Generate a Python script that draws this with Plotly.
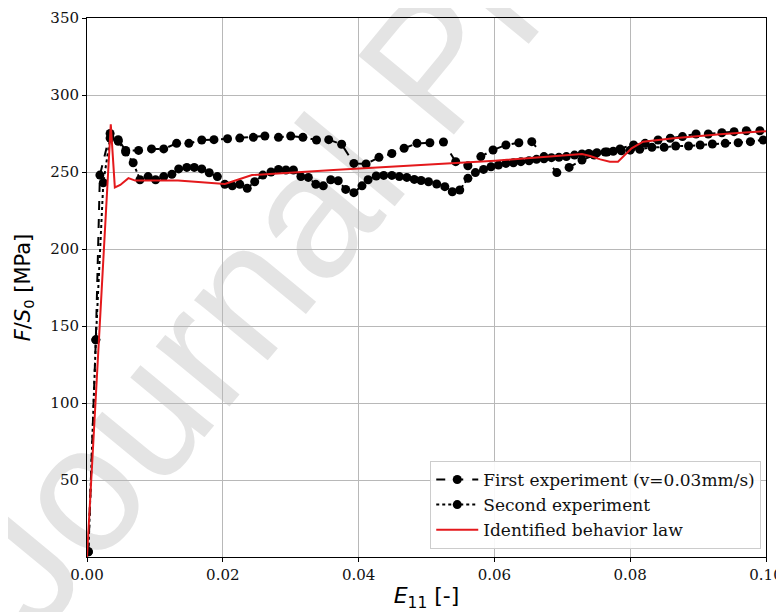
import plotly.graph_objects as go

# ---- First experiment (v=0.03mm/s), dashed ----
exp1_strain = [0.0002, 0.0013, 0.0019, 0.0034, 0.0046, 0.0057, 0.0076, 0.0095, 0.0113, 0.0132,
               0.0150, 0.0169, 0.0187, 0.0207, 0.0225, 0.0245, 0.0262, 0.0282, 0.0300, 0.0318,
               0.0338, 0.0356, 0.0375, 0.0393, 0.0411, 0.0430, 0.0449, 0.0467, 0.0486, 0.0505,
               0.0525, 0.0543, 0.0561, 0.0580, 0.0598, 0.0617, 0.0636, 0.0655, 0.0673, 0.0692,
               0.0710, 0.0729, 0.0747, 0.0766, 0.0785, 0.0805, 0.0822, 0.0841, 0.0859, 0.0877,
               0.0897, 0.0915, 0.0935, 0.0953, 0.0971, 0.0991]
exp1_stress = [3.4, 141, 248, 275, 271, 264, 264, 265, 265, 268.6,
               268.6, 270.8, 271, 271.6, 272, 272.5, 273.4, 272.5, 273.4, 272.5,
               270.8, 271, 268, 255.6, 255.2, 259.5, 262, 265.4, 268.6, 269,
               269.5, 256.7, 254, 260, 264.3, 267.5, 269, 269.7, 260, 249.6,
               253, 257.8, 261, 263, 265, 267.5, 268.6, 270.8, 271.9, 273,
               274.7, 274.7, 275.5, 276.2, 276.8, 276.8]

# ---- Second experiment, dotted ----
exp2_strain = [0.0002, 0.0013, 0.0024, 0.0034, 0.0046, 0.0057, 0.0068, 0.0078, 0.0090, 0.0101,
               0.0113, 0.0125, 0.0135, 0.0147, 0.0158, 0.0169, 0.0180, 0.0192, 0.0203, 0.0214,
               0.0225, 0.0236, 0.0247, 0.0259, 0.0271, 0.0282, 0.0293, 0.0304, 0.0315, 0.0326,
               0.0337, 0.0348, 0.0359, 0.0370, 0.0381, 0.0393, 0.0405, 0.0414, 0.0426, 0.0437,
               0.0449, 0.0460, 0.0471, 0.0482, 0.0492, 0.0503, 0.0515, 0.0527, 0.0538, 0.0549,
               0.0561, 0.0572, 0.0584, 0.0595, 0.0606, 0.0617, 0.0628, 0.0639, 0.0651, 0.0662,
               0.0673, 0.0684, 0.0695, 0.0706, 0.0718, 0.0729, 0.0739, 0.0751, 0.0763, 0.0775,
               0.0787, 0.0800, 0.0814, 0.0832, 0.0850, 0.0867, 0.0886, 0.0903, 0.0921, 0.0940,
               0.0959, 0.0977, 0.0996]
exp2_stress = [3.4, 141, 243, 272, 270, 263, 256, 245, 247, 245,
               247, 248.5, 252, 253, 253, 252, 249.5, 247, 242, 241,
               242, 239.4, 243.7, 248, 250, 251.7, 251.3, 251.3, 247, 246.5,
               242, 241, 245, 244.3, 238.7, 236.6, 241, 245, 247.4, 247.8,
               247.8, 247, 246.5, 245.2, 244.5, 243.7, 242.2, 240.5, 237.2, 238.3,
               245.9, 249.6, 251.7, 253.4, 254.5, 255.6, 256, 256.7, 257.3, 258.2,
               258.6, 259.3, 259.5, 260, 261, 261.7, 262, 262.5, 263, 263.5,
               263.8, 264.2, 264.7, 266, 266, 266.9, 266.9, 267.5, 268.2, 268.6,
               269, 269.7, 270.8]

# ---- Identified behavior law, red ----
law_strain = [0.0, 0.0035, 0.0041, 0.0049, 0.0061, 0.0071, 0.0095, 0.0134, 0.0159, 0.0193,
              0.0203, 0.0213, 0.0243, 0.0363, 0.0490, 0.0601, 0.0729, 0.0741, 0.0756, 0.0770,
              0.0782, 0.0792, 0.0802, 0.0819, 0.0864, 0.0937, 0.1000]
law_stress = [0.0, 281, 240, 241.6, 246, 244.4, 244.4, 244.4, 243.7, 242.2,
              242.2, 243.7, 248, 251.3, 254.5, 257.3, 261.7, 260.4, 258.2, 256.7,
              256.7, 261, 265.4, 269.7, 271.9, 274.7, 276.5]

x_ticks = [0.00, 0.02, 0.04, 0.06, 0.08, 0.10]
x_labels = ["0.00", "0.02", "0.04", "0.06", "0.08", "0.10"]
y_ticks = [50, 100, 150, 200, 250, 300, 350]

serif = "DejaVu Serif"

fig = go.Figure()
fig.add_trace(go.Scatter(
    x=exp1_strain, y=exp1_stress, mode="lines+markers",
    name="First experiment (v=0.03mm/s)",
    line=dict(color="black", dash="dash", width=2),
    marker=dict(color="black", size=9)))
fig.add_trace(go.Scatter(
    x=exp2_strain, y=exp2_stress, mode="lines+markers",
    name="Second experiment",
    line=dict(color="black", dash="dot", width=2),
    marker=dict(color="black", size=9)))
fig.add_trace(go.Scatter(
    x=law_strain, y=law_stress, mode="lines",
    name="Identified behavior law",
    line=dict(color="#e4191c", width=2)))

axis_common = dict(
    showline=True, linecolor="black", linewidth=1, mirror=True,
    ticks="outside", ticklen=4, tickcolor="black",
    showgrid=True, gridcolor="#b8b8b8", gridwidth=1, zeroline=False,
    tickfont=dict(family=serif, size=15, color="#111"),
    automargin=False,
)

fig.update_xaxes(range=[0, 0.1], tickvals=x_ticks, ticktext=x_labels,
                 title=dict(text="<i>E</i><sub>11</sub> [-]",
                            font=dict(family="DejaVu Sans", size=22, color="black"),
                            standoff=4),
                 **axis_common)
fig.update_yaxes(range=[0, 350], tickvals=y_ticks,
                 title=dict(text="<i>F</i>/<i>S</i><sub>0</sub> [MPa]",
                            font=dict(family="DejaVu Sans", size=21, color="black"),
                            standoff=14),
                 **axis_common)

# watermark (background text)
fig.add_shape(type="line", xref="paper", yref="paper",
              x0=0.206, y0=0.505, x1=0.769, y1=1.365,
              line=dict(width=0, color="rgba(0,0,0,0)"), layer="below",
              label=dict(text="Journal Pre-proof", textposition="middle", yanchor="middle",
                         font=dict(family="Liberation Sans", size=180, color="#e4e4e4")))

fig.update_layout(
    width=784, height=612,
    margin=dict(l=79, r=26, t=10, b=63, autoexpand=False),
    paper_bgcolor="white", plot_bgcolor="white",
    showlegend=True,
    legend=dict(x=0.993, y=0.015, xanchor="right", yanchor="bottom",
                itemwidth=42,
                bgcolor="rgba(255,255,255,0.9)", bordercolor="#cccccc", borderwidth=1,
                font=dict(family=serif, size=17, color="#111")),
)

fig.write_html("out.html")
